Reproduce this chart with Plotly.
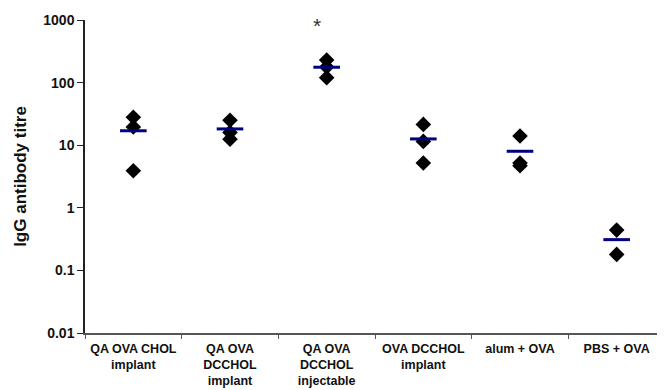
import math
import plotly.graph_objects as go

categories = ["QA OVA CHOL<br>implant", "QA OVA<br>DCCHOL<br>implant", "QA OVA<br>DCCHOL<br>injectable",
              "OVA DCCHOL<br>implant", "alum + OVA", "PBS + OVA"]
values = [
    [28, 19.5, 3.9],
    [25, 16, 12.5],
    [230, 178, 120],
    [21.5, 11.5, 5.2],
    [14, 5.2, 4.7],
    [0.44, 0.18],
]
means = [17, 18.2, 176, 12.6, 8.0, 0.31]
y_tickvals = [0.01, 0.1, 1, 10, 100, 1000]
y_ticktext = ["0.01", "0.1", "1", "10", "100", "1000"]
star_category = categories[2]
star_value = 820

xs, ys = [], []
for c, vals in zip(categories, values):
    for v in vals:
        xs.append(c)
        ys.append(v)

font = "Liberation Sans, Arial, sans-serif"

fig = go.Figure()
fig.add_trace(go.Scatter(x=xs, y=ys, mode="markers",
                         marker=dict(symbol="diamond", size=12, color="black"),
                         showlegend=False))
fig.add_trace(go.Scatter(x=categories, y=means, mode="markers",
                         marker=dict(symbol="line-ew", size=19, color="#000080",
                                     line=dict(color="#000080", width=3)),
                         showlegend=False))
fig.add_annotation(x=star_category, y=math.log10(star_value), text="*", showarrow=False,
                   xshift=-10, font=dict(size=21, color="#333", family=font))

# page body has an 8px default margin; sizes compensate for it
fig.update_layout(
    width=657, height=382,
    margin=dict(l=77, r=0, t=12, b=57),
    paper_bgcolor="white", plot_bgcolor="white",
    font=dict(family=font, color="black"),
)
fig.update_xaxes(type="category", categoryorder="array", categoryarray=categories,
                 range=[-0.5, 5.5], showline=True, linecolor="#555", linewidth=1.5,
                 ticks="outside", tickson="boundaries", ticklen=4, tickcolor="#555",
                 showgrid=False, zeroline=False, automargin=False, tickangle=0,
                 ticklabelstandoff=3,
                 tickfont=dict(size=12.5, family=font, weight="bold", color="#111"))
fig.update_yaxes(type="log", range=[-2, 3], tickvals=y_tickvals, ticktext=y_ticktext,
                 showline=True, linecolor="#222", linewidth=1.5,
                 ticks="outside", ticklen=6, tickcolor="#222",
                 showgrid=False, zeroline=False, automargin=False,
                 tickfont=dict(size=14, family=font, weight="bold", color="#111"),
                 title=dict(text="IgG antibody titre", standoff=12,
                            font=dict(size=17, family=font, weight="bold", color="#111")))
fig.write_html("out.html")
